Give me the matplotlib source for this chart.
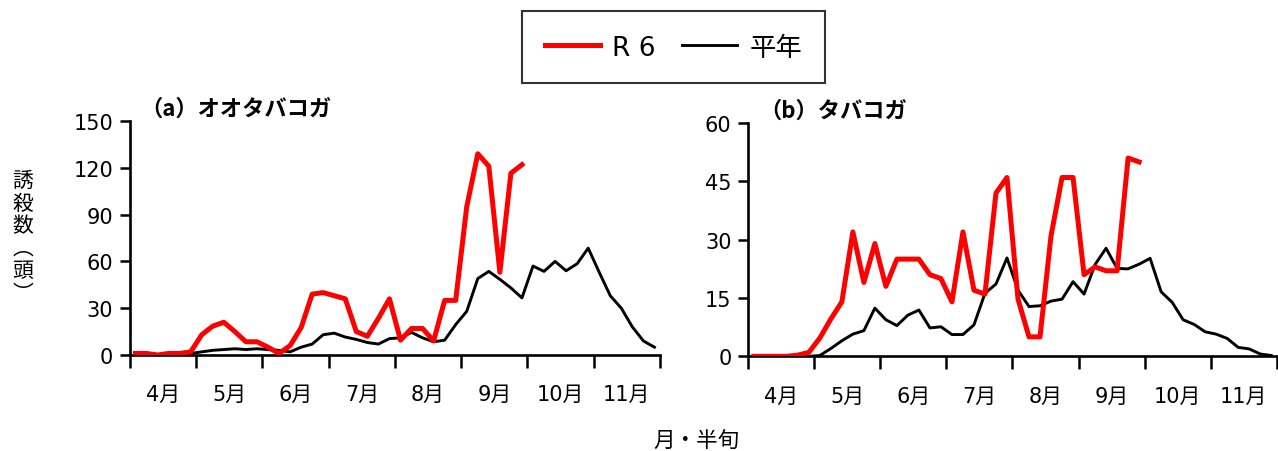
import numpy as np
import matplotlib
matplotlib.use("Agg")
import matplotlib.pyplot as plt

plt.rcParams['font.family'] = ['DejaVu Sans', 'Noto Sans CJK JP']

months = ["4月", "5月", "6月", "7月", "8月", "9月", "10月", "11月"]

# オオタバコガ (6 半旬 per month, 4月1半旬 ~)
a_r6 = [1, 1, 0, 1, 1, 2, 13, 18.5, 21, 15, 8.5, 8.5, 5, 1, 6, 17.5, 39, 40, 38, 36,
        15, 12, 23.5, 36, 9.5, 17, 17, 9, 35, 35, 95, 129, 121, 53, 116.5, 122]
a_avg = [0, 0, 0, 0, 0.5, 1, 2, 3, 3.5, 4, 3.5, 4, 3.5, 3, 2, 5, 7, 13, 14, 11.5,
         10, 8, 7, 10.5, 11, 14.5, 11, 8.5, 9.5, 19.5, 28, 49, 53.6, 48.5, 43, 36.6,
         57, 53.6, 60, 54, 58.5, 68.5, 53, 38, 30, 18, 9, 5]

# タバコガ
b_r6 = [0, 0, 0, 0, 0.3, 1, 4.7, 9.6, 14, 32, 19, 29, 18, 25, 25, 25, 21, 20, 14, 32,
        17, 16, 42, 46, 14.7, 5, 5, 31, 46, 46, 21, 23, 22, 22, 51, 50]
b_avg = [0, 0, 0, 0, 0, 0, 0.2, 2, 4, 5.7, 6.6, 12.4, 9.4, 7.9, 10.6, 11.9, 7.3, 7.6,
         5.6, 5.6, 8.1, 16.2, 18.6, 25.3, 17, 12.8, 13, 14.2, 14.7, 19.2, 16, 23.6,
         27.8, 22.6, 22.5, 23.7, 25.2, 16.6, 13.9, 9.4, 8.2, 6.3, 5.7, 4.6, 2.3, 1.9,
         0.6, 0.2]

fig = plt.figure(figsize=(12.78, 4.52), dpi=100)
ax1 = fig.add_axes([0.1017, 0.2124, 0.4147, 0.5177])
ax2 = fig.add_axes([0.5855, 0.2095, 0.4135, 0.5160])

jp = ['Noto Sans CJK JP', 'DejaVu Sans']


def draw(ax, r6, avg, ymax, step, title):
    x_r6 = np.arange(len(r6)) + 0.5
    x_avg = np.arange(len(avg)) + 0.5
    ax.plot(x_avg, avg, color="black", lw=2.1, label="平年", zorder=2)
    ax.plot(x_r6, r6, color="#ff0000", lw=3.6, label="R 6", zorder=3)
    ax.set_xlim(0, 48)
    ax.set_ylim(0, ymax)
    ax.set_yticks(np.arange(0, ymax + 1, step))
    ax.set_xticks(np.arange(0, 49, 6))
    ax.set_xticklabels([])
    ax.set_xticks(np.arange(3, 48, 6), minor=True)
    ax.set_xticklabels(months, minor=True)
    ax.tick_params(axis="x", which="major", direction="out", length=9, width=1.8)
    ax.tick_params(axis="x", which="minor", length=0, pad=21, labelsize=15)
    ax.tick_params(axis="y", direction="out", length=7, width=1.8, labelsize=15, pad=5)
    for s in ["top", "right"]:
        ax.spines[s].set_visible(False)
    for s in ["left", "bottom"]:
        ax.spines[s].set_linewidth(1.9)
    ax.text(0.02, 1.053, title, transform=ax.transAxes, fontsize=16, family=jp,
            fontweight="bold", ha="left", va="center")


draw(ax1, a_r6, a_avg, 150, 30, "（a）オオタバコガ")
draw(ax2, b_r6, b_avg, 60, 15, "（b）タバコガ")

fig.text(0.018, 0.475, "誘\n殺\n数\n︵\n頭\n︶", fontsize=15, family=jp,
         ha="center", va="center", linespacing=1.03)
fig.text(0.545, 0.025, "月・半旬", fontsize=15.5, family=jp, ha="center", va="center")

handles, labels = ax1.get_legend_handles_labels()
leg = fig.legend(handles[::-1], labels[::-1], loc="upper center", ncol=2,
                 bbox_to_anchor=(0.527, 0.973), borderaxespad=0, fontsize=19,
                 frameon=True, fancybox=False, edgecolor="black", handlelength=2.1,
                 handletextpad=0.45, columnspacing=1.0, borderpad=0.85)
leg.get_frame().set_linewidth(1.5)
for t in leg.get_texts():
    t.set_family(jp if t.get_text() == "平年" else ['DejaVu Sans'])

fig.savefig("out.png", dpi=100)
